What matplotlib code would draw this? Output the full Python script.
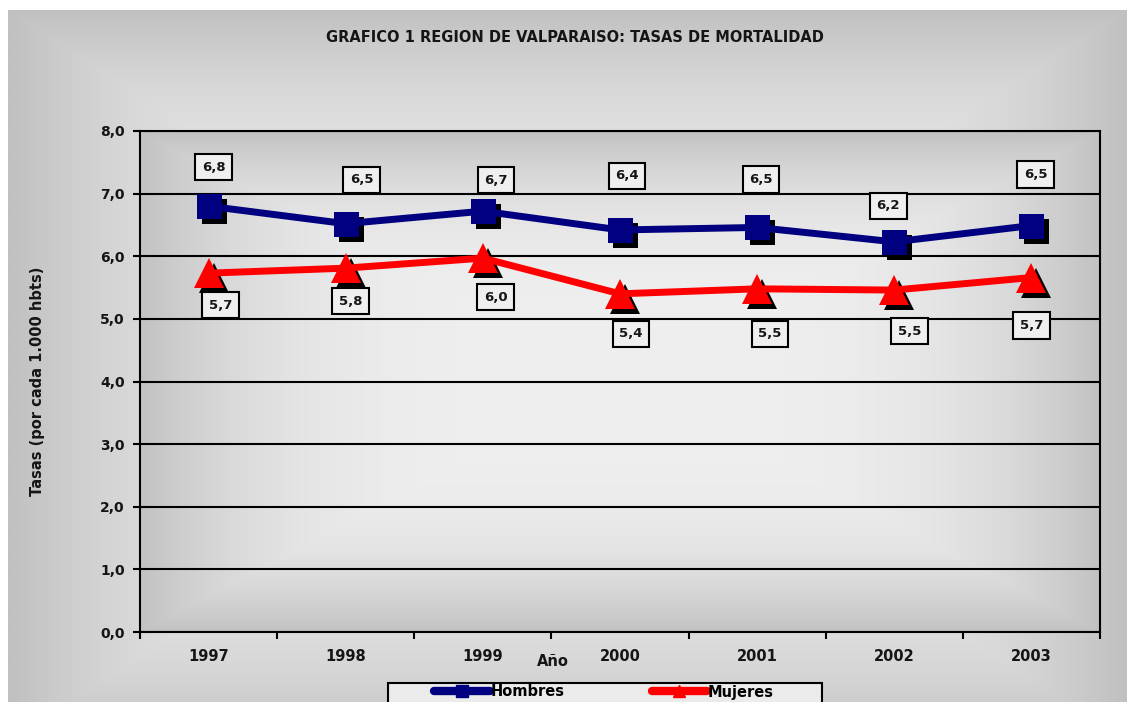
import numpy as np
import matplotlib as mp
from matplotlib import pyplot as plt
import matplotlib.transforms as mtransforms
from matplotlib.lines import Line2D
from matplotlib.patches import Rectangle

mp.use("Agg")

anni = ["1997", "1998", "1999", "2000", "2001", "2002", "2003"]
hombres = [6.80, 6.52, 6.72, 6.42, 6.46, 6.23, 6.49]
mujeres = [5.73, 5.81, 5.97, 5.40, 5.48, 5.46, 5.66]
y_ticks = [0, 1, 2, 3, 4, 5, 6, 7, 8]

# label offsets (pixels) picked by hand in the original sheet
off_hombres = [(5, 39), (16, 44), (13, 31), (7, 54), (4, 48), (-6, 36), (4, 51)]
off_mujeres = [(12, -32), (5, -33), (13, -39), (11, -40), (13, -45), (15, -41), (0, -48)]

navy_color = "#000080"
red_color = "#ff0000"
text_color = "#151515"
W, H = 1127, 702


def gradient(edge, center, n=400, power=1.0):
    u = np.linspace(-1, 1, n)
    uu, vv = np.meshgrid(u, u)
    t = np.maximum(np.abs(uu), np.abs(vv)) ** power
    edge = np.array(mp.colors.to_rgb(edge))
    center = np.array(mp.colors.to_rgb(center))
    img = center[None, None, :] * (1 - t[..., None]) + edge[None, None, :] * t[..., None]
    return img


def fmt(v):
    return "{:.1f}".format(v).replace(".", ",")


def plot_series(ax, values, color, marker, size, offsets, label):
    x = np.arange(len(values))
    shadow = mtransforms.offset_copy(ax.transData, fig=ax.figure, x=5, y=-5, units="dots")
    ax.plot(x, values, linestyle="none", marker=marker, markersize=size,
            color="black", markeredgewidth=0, transform=shadow, zorder=3, clip_on=False)
    ax.plot(x, values, color=color, linewidth=5, marker=marker, markersize=size,
            markeredgewidth=0, zorder=4, label=label, clip_on=False)
    for xi, v, off in zip(x, values, offsets):
        ax.annotate(fmt(v), (xi, v), xytext=off, textcoords="offset pixels",
                    ha="center", va="center", fontsize=9.5, fontweight="bold",
                    color=text_color, zorder=6,
                    bbox=dict(boxstyle="square,pad=0.5", facecolor="#efefef",
                              edgecolor="black", linewidth=1.5))


fig = plt.figure(figsize=(W / 100, H / 100), dpi=100)
fig.patch.set_facecolor("white")

# chart area background (goes on below the bottom edge of the picture)
bg = fig.add_axes([8 / W, -40 / H, 1 - 8 / W, (742 - 10) / H], zorder=-10)
bg.imshow(gradient("#c0c0c0", "#e9e9e9", power=3.5), aspect="auto",
          extent=[0, 1, 0, 1], interpolation="bilinear")
bg.set_axis_off()

ax = fig.add_axes([140 / W, 1 - 632 / H, 960 / W, (632 - 131) / H])
ax.set_facecolor("none")
ax.imshow(gradient("#c2c2c2", "#efefef", power=3.5), aspect="auto",
          extent=[-0.5, 6.5, 0, 8], interpolation="bilinear", zorder=0)

ax.set_xlim(-0.5, 6.5)
ax.set_ylim(0, 8)

for y in y_ticks:
    ax.axhline(y, color="black", linewidth=1.5, zorder=1)

plot_series(ax, hombres, navy_color, "s", 18, off_hombres, "Hombres")
plot_series(ax, mujeres, red_color, "^", 21, off_mujeres, "Mujeres")

for s in ax.spines.values():
    s.set_linewidth(1.5)
    s.set_color("black")

ax.set_yticks(y_ticks)
ax.set_yticklabels([fmt(v) for v in y_ticks], fontsize=10, fontweight="bold", color=text_color)
ax.tick_params(axis="y", direction="out", length=5, width=1.5, pad=6)

ax.set_xticks(np.arange(len(anni)))
ax.set_xticklabels(anni, fontsize=10.5, fontweight="bold", color=text_color)
ax.set_xticks(np.arange(-0.5, len(anni) + 0.5, 1), minor=True)
ax.tick_params(axis="x", which="major", length=0, pad=12)
ax.tick_params(axis="x", which="minor", direction="out", length=5, width=1.5)

fig.text(575 / W, 1 - 37 / H, "GRAFICO 1 REGION DE VALPARAISO: TASAS DE MORTALIDAD",
         ha="center", va="center", fontsize=10.5, fontweight="bold", color=text_color)
fig.text(38 / W, 1 - 381 / H, "Tasas (por cada 1.000 hbts)", rotation=90,
         ha="center", va="center", fontsize=10.5, fontweight="bold", color=text_color)
fig.text(553 / W, 1 - 661 / H, "Año", ha="center", va="center",
         fontsize=10.5, fontweight="bold", color=text_color)

# legend frame, cut off by the bottom of the picture
fig.patches.append(Rectangle((388 / W, 1 - 712 / H), 434 / W, 29 / H,
                             transform=fig.transFigure, facecolor="#ebebeb",
                             edgecolor="black", linewidth=1.5, zorder=5))
handles = [Line2D([], [], color=navy_color, linewidth=6, marker="s", markersize=8,
                  solid_capstyle="round"),
           Line2D([], [], color=red_color, linewidth=6, marker="^", markersize=9,
                  solid_capstyle="round")]
leg = fig.legend(handles, ["Hombres", "Mujeres"], loc="center",
                 bbox_to_anchor=(604 / W, 1 - 692 / H), ncol=2, frameon=False,
                 prop=dict(size=10.5, weight="bold"), handlelength=3.8,
                 handletextpad=0.05, columnspacing=6.0, borderpad=0)
leg.set_zorder(6)

fig.savefig("out.png", dpi=100)
